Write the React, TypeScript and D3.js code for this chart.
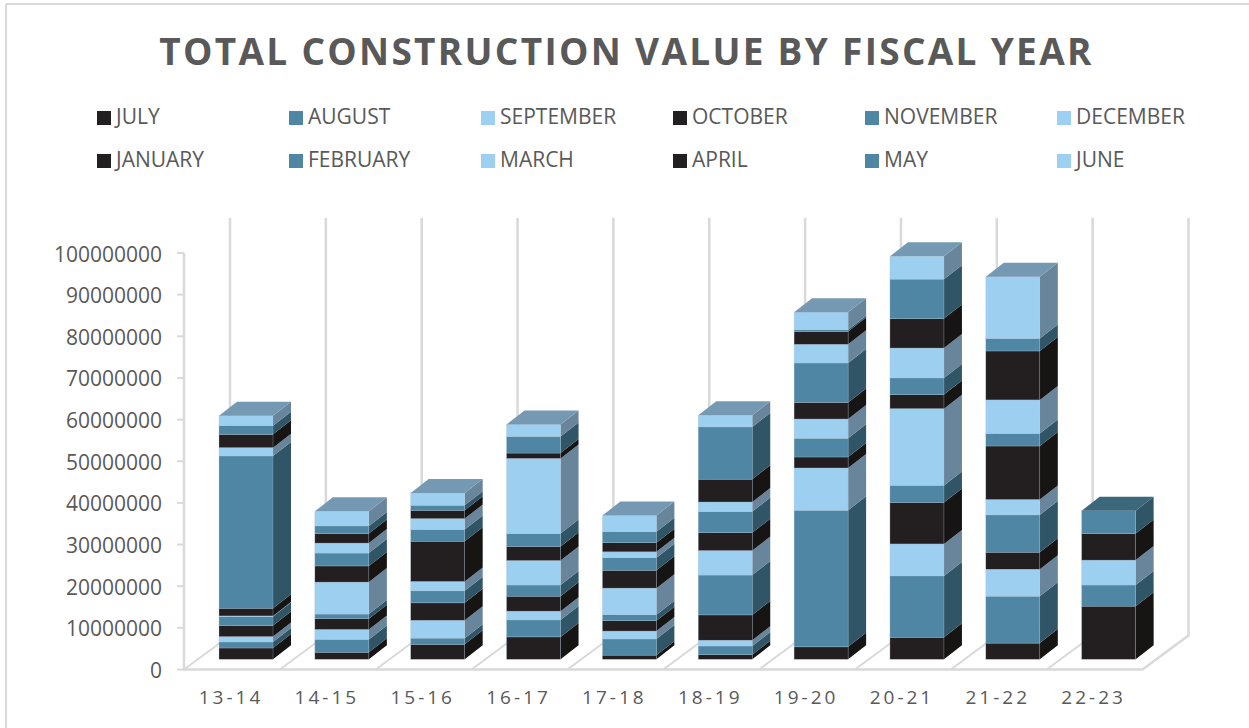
import React from "react";
import * as d3 from "d3";

const title = "TOTAL CONSTRUCTION VALUE BY FISCAL YEAR";
const fiscalYears = ["13-14", "14-15", "15-16", "16-17", "17-18", "18-19", "19-20", "20-21", "21-22", "22-23"];
const months = ["JULY", "AUGUST", "SEPTEMBER", "OCTOBER", "NOVEMBER", "DECEMBER", "JANUARY", "FEBRUARY", "MARCH", "APRIL", "MAY", "JUNE"];
const yTicks = [0, 10000000, 20000000, 30000000, 40000000, 50000000, 60000000, 70000000, 80000000, 90000000, 100000000];

// values in millions
const july = [2.73, 1.7, 3.6, 5.4, 1.0, 1.1, 3.0, 5.3, 3.9, 12.8];
const august = [1.45, 3.1, 1.5, 4.1, 3.9, 2.1, 32.9, 14.8, 11.3, 5.1];
const september = [1.29, 2.4, 4.3, 2.1, 1.9, 1.4, 10.2, 7.7, 6.5, 6.0];
const october = [2.65, 2.6, 4.2, 3.6, 2.5, 6.1, 2.65, 10.0, 4.1, 6.4];
const november = [2.17, 1.1, 2.9, 2.7, 1.45, 9.6, 4.5, 4.1, 9.0, 5.5];
const december = [0.16, 7.7, 2.25, 5.9, 6.4, 5.9, 4.65, 18.5, 3.7, 0];
const january = [1.85, 3.9, 9.7, 3.4, 4.3, 4.3, 4.0, 3.4, 12.9, 0];
const february = [36.7, 3.1, 2.8, 3.1, 3.05, 5.1, 9.5, 4.0, 3.0, 0];
const march = [2.0, 2.4, 2.65, 18.1, 1.4, 2.3, 4.5, 7.2, 8.1, 0];
const april = [3.2, 2.3, 2.0, 1.3, 2.2, 5.5, 3.1, 7.1, 11.8, 0];
const may = [2.1, 1.85, 1.2, 4.0, 2.65, 12.6, 0.4, 9.5, 3.0, 0];
const june = [2.4, 3.5, 3.0, 2.9, 3.9, 2.8, 4.25, 5.5, 14.9, 0];
const seriesValues = [july, august, september, october, november, december, january, february, march, april, may, june];

const frontColors = ["#231f20", "#4f86a3", "#9dcff0"];
const sideColors = ["#171414", "#305566", "#68859c"];
const topColors = ["#171414", "#3d687c", "#7699b3"];
const gridColor = "#d9d9d9";
const textColor = "#595959";
const edgeColor = "#a9c3d6";
const font = "'Open Sans', sans-serif";

const W = 1249;
const H = 728;
const axisX = 184;
const floorY = 669.5;
const wallDx = 46;
const wallDy = 34;
const barOffset = 35;
const barW = 54;
const depthX = 18;
const depthY = 14;

const x = d3.scaleBand<string>().domain(fiscalYears).range([axisX, axisX + 95.85 * fiscalYears.length]);
const yAxis = d3.scaleLinear().domain([0, 100000000]).range([floorY, 253]);
const yBar = d3.scaleLinear().domain([0, 100]).range([659.3, 244.3]);

const table = fiscalYears.map((fy, i) => {
  const row: Record<string, any> = { fy };
  months.forEach((m, s) => (row[m] = seriesValues[s][i]));
  return row;
});
const stacked = d3.stack<any>().keys(months)(table);

const poly = d3.line();
const path = (pts: [number, number][]) => poly(pts) + "Z";

export default function App() {
  const floorRight = x.range()[0] + 95.85 * fiscalYears.length;
  return (
    <svg
      width={W}
      height={H}
      viewBox={`0 0 ${W} ${H}`}
      style={{ position: "absolute", left: 0, top: 0, display: "block", background: "#fff" }}
    >
      {/* outer frame */}
      <line x1={6} y1={4} x2={W} y2={4} stroke={gridColor} strokeWidth={2} />
      <line x1={6} y1={4} x2={6} y2={H} stroke={gridColor} strokeWidth={2} />

      <text
        x={626.5}
        y={65}
        textAnchor="middle"
        fontFamily={font}
        fontWeight={700}
        fontSize={37}
        letterSpacing={2.3}
        fill={textColor}
      >
        {title}
      </text>

      {/* legend */}
      {months.map((m, i) => {
        const col = i % 6;
        const row = Math.floor(i / 6);
        const lx = 97 + col * 192;
        const ly = 111 + row * 43;
        return (
          <g key={m}>
            <rect x={lx} y={ly} width={14} height={14} fill={frontColors[i % 3]} />
            <text x={lx + 19} y={ly + 13} fontFamily={font} fontSize={21} fill={textColor}>
              {m}
            </text>
          </g>
        );
      })}

      {/* walls and floor */}
      <path
        d={path([
          [axisX, yAxis(100000000)],
          [axisX, floorY],
          [floorRight, floorY],
          [floorRight + wallDx, floorY - wallDy],
          [floorRight + wallDx, 218],
        ]).replace("Z", "")}
        fill="none"
        stroke={gridColor}
        strokeWidth={2.5}
      />
      {fiscalYears.map((fy) => (
        <g key={fy}>
          <line
            x1={x(fy)!}
            y1={floorY}
            x2={x(fy)! + wallDx}
            y2={floorY - wallDy}
            stroke={gridColor}
            strokeWidth={2}
          />
          <line
            x1={x(fy)! + wallDx}
            y1={floorY - wallDy}
            x2={x(fy)! + wallDx}
            y2={218}
            stroke={gridColor}
            strokeWidth={2.5}
          />
        </g>
      ))}

      {/* y axis */}
      {yTicks.map((t) => (
        <g key={t}>
          <line x1={177} x2={axisX} y1={yAxis(t)} y2={yAxis(t)} stroke={gridColor} strokeWidth={2} />
          <text
            x={162}
            y={yAxis(t) + 8.5}
            textAnchor="end"
            fontFamily={font}
            fontSize={21}
            fill={textColor}
          >
            {t}
          </text>
        </g>
      ))}

      {/* x labels */}
      {fiscalYears.map((fy) => (
        <text
          key={fy}
          x={x(fy)! + 47}
          y={704}
          textAnchor="middle"
          fontFamily={font}
          fontSize={19}
          letterSpacing={3}
          fill={textColor}
        >
          {fy}
        </text>
      ))}

      {/* 3D stacked bars */}
      {fiscalYears.map((fy, i) => {
        const bx = x(fy)! + barOffset;
        const topSeries = d3.max(stacked.filter((s) => s[i][1] - s[i][0] > 0), (s) => s.index)!;
        const topY = yBar(stacked[topSeries][i][1]);
        return (
          <g key={fy}>
            {stacked.map((s) => {
              const y0 = yBar(s[i][0]);
              const y1 = yBar(s[i][1]);
              if (s[i][1] - s[i][0] <= 0) return null;
              const c = s.index % 3;
              return (
                <g key={s.key}>
                  <path
                    d={path([
                      [bx + barW, y0],
                      [bx + barW + depthX, y0 - depthY],
                      [bx + barW + depthX, y1 - depthY],
                      [bx + barW, y1],
                    ])}
                    fill={sideColors[c]}
                  />
                  <rect
                    x={bx}
                    y={y1}
                    width={barW}
                    height={y0 - y1}
                    fill={frontColors[c]}
                    stroke={edgeColor}
                    strokeWidth={0.5}
                    strokeOpacity={0.6}
                  />
                </g>
              );
            })}
            <path
              d={path([
                [bx, topY],
                [bx + depthX, topY - depthY],
                [bx + barW + depthX, topY - depthY],
                [bx + barW, topY],
              ])}
              fill={topColors[topSeries % 3]}
            />
          </g>
        );
      })}
    </svg>
  );
}
